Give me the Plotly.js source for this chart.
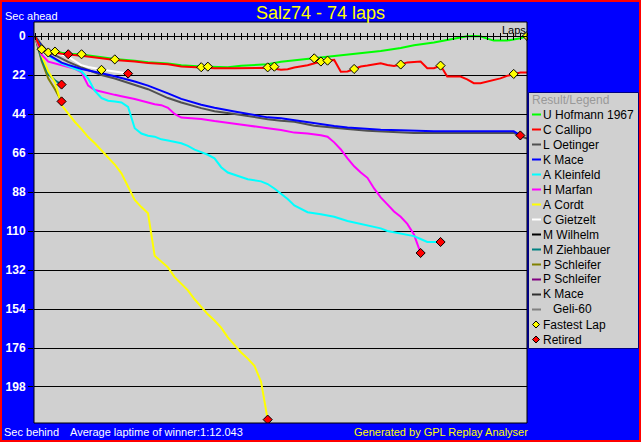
<!DOCTYPE html>
<html>
<head>
<meta charset="utf-8">
<script src="https://cdn.plot.ly/plotly-3.0.1.min.js"></script>
<style>
html,body{margin:0;padding:0;background:#0000FF;overflow:hidden;}
#wrap{position:relative;width:641px;height:442px;}
#chart{position:absolute;left:0;top:0;width:641px;height:442px;}
#frame{position:absolute;left:0;top:0;width:641px;height:442px;box-sizing:border-box;border:2px solid #FF0000;pointer-events:none;}
</style>
</head>
<body>
<div id="wrap"><div id="chart"></div><div id="frame"></div></div>
<script>
// ---------------- DATA ----------------
const chartTitle = 'Salz74 - 74 laps';
const totalLaps = 74;
const yTickStep = 22;

const driverNames = ['U Hofmann 1967','C Callipo','L Oetinger','K Mace','A Kleinfeld','H Marfan','A Cordt','C Gietzelt','M Wilhelm','M Ziehbauer','P Schleifer','P Schleifer','K Mace','   Geli-60'];
const driverColors = ['#00FF00','#FF0000','#505050','#0000FF','#00FFFF','#FF00FF','#FFFF00','#FFFFFF','#000000','#008080','#808000','#800080','#303030','#808080'];

const hofmannLaps = [0,1,2,3,4,5,7,10,12,15,17,20,22,25,27,29,31,33,35,37,40,42,45,47,50,52,55,57,60,62,64,65,66,67,68,69,71,72,73,74];
const hofmannSec  = [0,7.5,9,8.5,9.5,10,10.4,12,13,14,14.8,15.5,16.5,17.2,17.6,17.6,16.8,16.3,15.9,14.5,13.3,12.6,11.2,10.6,9.4,8.5,6.8,5.2,3.7,2.2,1,0.2,0,0.2,1.5,2.6,2.6,2,1.3,0];

const callipoLaps = [0,1,2,3,4,5,7,10,12,15,17,20,22,25,27,30,32,34,35,36,37,38,39,41,42,43,44,45,46,47,48,49,50,52,53,54,55,56,58,59,60,61,62,64,65,66,67,68,69,70,71,72,73,74];
const callipoSec  = [0,8,9.8,9.5,10,10.5,11.2,12.5,13.5,14.4,15.3,15.9,17.2,17.8,18.2,18.2,18.2,17.8,17.9,18.5,19.1,18.8,17.8,16.5,15.4,14.4,13.9,13.5,20.1,20,18.6,17.2,16.7,15.4,16.3,16.9,16.1,14.9,14.4,18.2,18.2,16.7,22.9,22.9,24.5,26.6,26.6,25.8,24.9,23.9,22.5,21.4,20.6,20.6];

const oetingerLaps = [0,1,2,3,4,5,7,10,12,15,17,20,22,25,27,30,32,35,37,39,42,45,47,50,52,55,57,62,67,72,73,74];
const oetingerSec  = [0,5,9,11,13,14.6,17.8,22,24,27.6,30,35,37.5,40.7,42.5,44,45.3,46.9,47.8,48.4,50.6,51.9,52.5,53.4,53.8,54.5,54.7,54.7,54.7,54.7,56.5,57.9];

const maceLaps = [0,1,2,3,4,5,7,10,12,15,17,20,22,25,27,30,32,35,37,39,42,45,47,50,52,55,57,60,65,70,72,73];
const maceSec  = [0,6,10.5,13,15,16.3,18.6,21,22.7,25.7,28,32.4,35.5,38.8,40.5,42.6,44,45.9,46.4,47.5,49.5,50.8,51.6,52.5,52.9,53.2,53.4,53.8,53.8,53.8,53.8,56.1];

const kleinfeldLaps = [0,1,2,3,4,5,6,7,8,9,10,11,12,13,14,15,16,17,18,19,20,22,23,24,25,26,27,28,29,30,31,32,34,35,36,37,38,39,40,41,43,45,47,50,52,53,55,57,58,59,61];
const kleinfeldSec  = [0,7,11,13.5,15.5,17,18.5,20,24,31,35,36.5,36.9,37.5,40,52,55,56.3,56.8,58.3,59,60.5,62,64.1,65.5,67,69,74,77,78.2,79.5,80.8,82,83.5,86,89,92,95.6,97.5,99.4,100.5,102,104.4,106.7,108.5,110,111.5,112.9,114.5,116.2,116.2];

const marfanLaps = [0,1,2,3,4,5,6,7,8,9,10,11,12,13,15,17,18,19,20,21,22,24,25,27,30,32,35,37,39,41,43,44,45,46,47,48,49,50,51,52,53,54,55,56,57,58];
const marfanSec  = [0,10.5,14.5,15.5,16.5,17.3,18.5,20.5,28,30.5,31.5,32.5,33.2,34,35.5,37.5,38.5,39,40.5,44,46,46.5,46.8,48,49.7,50.5,52,53,54.5,55,56,56.8,60,64,69,73.5,77,80,86,91,95,99,102,106,112,122.4];

const cordtLaps = [0,1,2,3,4,5,6,7,8,9,10,11,12,13,14,15,16,17,18,19,20,21,22,23,24,25,26,27,28,29,30,31,32,33,34,35];
const cordtSec  = [0,11,20,26,39,44,48.5,52.5,57,60.5,64.5,68.5,72.5,77.5,85,92.5,96.5,100,124,127.5,130.5,136,140,143.5,148.5,153,157,160.5,164.5,170,174.5,178.5,182,186,195,216.4];

const gietzeltLaps = [0,1,2,3,4,5,6,7,8,9,10,11,12,13,14];
const gietzeltSec  = [0,6,8.5,9.7,10.5,11.6,14,16.5,17.5,18.3,19.1,19.5,20,20.5,21.2];

const wilhelmLaps = [0,1,2,3,4,5];
const wilhelmSec  = [0,6.5,8.5,9.5,10,10.3];

const ziehbauerLaps = [0,1,2,3,4];
const ziehbauerSec  = [0,13,21.5,25,27.4];

const schleiferLaps = [0,1,2,3,4];
const schleiferSec  = [0,14,24,30,36.9];

const schleifer2Laps = [0];
const schleifer2Sec  = [0];
const mace2Laps = [0];
const mace2Sec  = [0];
const geliLaps = [0];
const geliSec  = [0];

const fastLaps = [1,2,3,7,10,12,25,26,35,36,42,43,44,48,55,61,72,74];
const fastSecs = [7.5,9.3,8.8,10.3,19.1,13.2,17.6,17.3,17.7,17.3,12.6,14.4,13.9,18.6,16.1,16.7,21.4,0];

// indexes of drivers that retired (their last point is marked)
const retiredIdx = [8,7,9,10,3,4,5,6];

const avgText = 'Average laptime of winner:1:12.043';

// ---------------- BUILD ----------------
const seriesLaps = [hofmannLaps,callipoLaps,oetingerLaps,maceLaps,kleinfeldLaps,marfanLaps,cordtLaps,gietzeltLaps,wilhelmLaps,ziehbauerLaps,schleiferLaps,schleifer2Laps,mace2Laps,geliLaps];
const seriesSec  = [hofmannSec,callipoSec,oetingerSec,maceSec,kleinfeldSec,marfanSec,cordtSec,gietzeltSec,wilhelmSec,ziehbauerSec,schleiferSec,schleifer2Sec,mace2Sec,geliSec];

const FONT = 'Liberation Sans, Arial, sans-serif';
const W=641,H=442,L=34,T=22,PW=493,PH=401;
const px = p => (p-L)/PW;
const py = q => (T+PH-q)/PH;

const traces = [];
const order = [13,12,11,10,9,8,7,6,5,4,2,3,0,1];
order.forEach(i=>{
  traces.push({x:seriesLaps[i], y:seriesSec[i], type:'scatter', mode:'lines',
    line:{color:driverColors[i], width:2}, hoverinfo:'skip', showlegend:false});
});
traces.push({x:fastLaps, y:fastSecs, type:'scatter', mode:'markers',
  marker:{symbol:'diamond', size:7, color:'#FFFF00', line:{color:'#000000', width:1}}, hoverinfo:'skip', showlegend:false});
traces.push({x:retiredIdx.map(i=>seriesLaps[i][seriesLaps[i].length-1]),
  y:retiredIdx.map(i=>seriesSec[i][seriesSec[i].length-1]), type:'scatter', mode:'markers',
  marker:{symbol:'diamond', size:7, color:'#FF0000', line:{color:'#000000', width:1}}, hoverinfo:'skip', showlegend:false});
traces.push({x:[0], y:[0], xaxis:'x2', yaxis:'y', mode:'none', type:'scatter', hoverinfo:'skip', showlegend:false});

const yTop = -(36-T)/1.7727, yBot = (T+PH-36)/1.7727;
const xLeft = -1/6.649;
const zeroPos = py(36);

const shapes = [
  {type:'rect', xref:'paper', yref:'paper', x0:0, x1:1, y0:0, y1:1, line:{color:'#000000', width:1}, layer:'above'},
  {type:'rect', xref:'paper', yref:'paper', x0:px(528.5), x1:px(638.5), y0:py(92.5), y1:py(348.5), fillcolor:'#D0D0D0', line:{color:'#000080', width:1}, layer:'above'}
];
const annotations = [
  {text:'Sec ahead', x:px(3), y:py(16), xref:'paper', yref:'paper', xanchor:'left', yanchor:'middle', showarrow:false, font:{family:FONT, size:11, color:'#FFFFFF'}},
  {text:'Laps', x:px(528), y:py(30), xref:'paper', yref:'paper', xanchor:'right', yanchor:'middle', showarrow:false, font:{family:FONT, size:11, color:'#000000'}},
  {text:'Sec behind', x:px(2), y:py(432), xref:'paper', yref:'paper', xanchor:'left', yanchor:'middle', showarrow:false, font:{family:FONT, size:11, color:'#FFFFFF'}},
  {text:avgText, x:px(68), y:py(432), xref:'paper', yref:'paper', xanchor:'left', yanchor:'middle', showarrow:false, font:{family:FONT, size:11, color:'#FFFFFF'}},
  {text:'Generated by GPL Replay Analyser', x:px(530), y:py(432), xref:'paper', yref:'paper', xanchor:'right', yanchor:'middle', showarrow:false, font:{family:FONT, size:11, color:'#FFFF00'}},
  {text:'Result/Legend', x:px(530), y:py(99.5), xref:'paper', yref:'paper', xanchor:'left', yanchor:'middle', showarrow:false, font:{family:FONT, size:12, color:'#999999'}}
];
driverNames.forEach((n,i)=>{
  const yc = 114.5 + 15*i;
  shapes.push({type:'line', xref:'paper', yref:'paper', x0:px(532), x1:px(541), y0:py(yc), y1:py(yc), line:{color:driverColors[i], width:2}, layer:'above'});
  annotations.push({text:n.replace(/ /g,'\u00a0'), x:px(541), y:py(yc), xref:'paper', yref:'paper', xanchor:'left', yanchor:'middle', showarrow:false, font:{family:FONT, size:12, color:'#000000'}});
});
const legendMarks = [['Fastest Lap','#FFFF00'],['Retired','#FF0000']];
legendMarks.forEach((m,k)=>{
  const yc = 114.5 + 15*(driverNames.length+k), cx=536, r=3.5;
  shapes.push({type:'path', xref:'paper', yref:'paper',
    path:`M ${px(cx)},${py(yc-r)} L ${px(cx+r)},${py(yc)} L ${px(cx)},${py(yc+r)} L ${px(cx-r)},${py(yc)} Z`,
    fillcolor:m[1], line:{color:'#000000', width:1}, layer:'above'});
  annotations.push({text:m[0], x:px(541), y:py(yc), xref:'paper', yref:'paper', xanchor:'left', yanchor:'middle', showarrow:false, font:{family:FONT, size:12, color:'#000000'}});
});

const layout = {
  width:W, height:H,
  margin:{l:L, r:W-L-PW, t:T, b:H-T-PH, pad:0},
  paper_bgcolor:'#0000FF', plot_bgcolor:'#D0D0D0',
  title:{text:chartTitle, font:{family:FONT, size:18, color:'#FFFF00'}, x:0.5, xanchor:'center', y:1-13/H, yanchor:'middle'},
  showlegend:false,
  xaxis:{range:[xLeft,totalLaps], anchor:'free', position:zeroPos, side:'top', ticks:'outside', ticklen:3, tickwidth:1, tickcolor:'#000000',
    dtick:1, tick0:0, showticklabels:false, showgrid:false, zeroline:false, showline:true, linecolor:'#000000', linewidth:1, fixedrange:true},
  xaxis2:{range:[xLeft,totalLaps], overlaying:'x', anchor:'free', position:zeroPos, side:'bottom', ticks:'outside', ticklen:3, tickwidth:1, tickcolor:'#000000',
    dtick:1, tick0:0, showticklabels:false, showgrid:false, zeroline:false, showline:false, fixedrange:true},
  yaxis:{range:[yBot,yTop], tick0:0, dtick:yTickStep, ticks:'outside', ticklen:5, tickwidth:1, tickcolor:'#000000',
    showgrid:true, gridcolor:'#000000', gridwidth:1, zeroline:true, zerolinecolor:'#000000', zerolinewidth:1,
    showline:false, tickfont:{family:FONT, size:12, color:'#FFFFFF', weight:'bold'}, fixedrange:true},
  shapes:shapes, annotations:annotations
};
Plotly.newPlot('chart', traces, layout, {staticPlot:true, displayModeBar:false});
</script>
</body>
</html>
